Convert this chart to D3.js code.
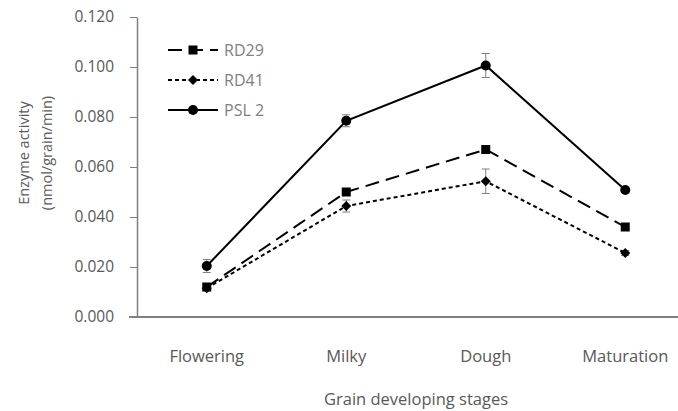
<!DOCTYPE html>
<html>
<head>
<meta charset="utf-8">
<script src="https://cdn.jsdelivr.net/npm/d3@7"></script>
<style>
  html, body { margin: 0; padding: 0; background: #fff; }
  svg { display: block; }
  text { font-family: "Open Sans", "Noto Sans", sans-serif; }
</style>
</head>
<body>
<svg id="chart" width="678" height="411"></svg>
<script>
const categories = ["Flowering", "Milky", "Dough", "Maturation"];
const seriesNames = ["RD29", "RD41", "PSL 2"];
const rd29 = [0.012, 0.050, 0.067, 0.036];
const rd29Err = [0.001, 0.001, 0.001, 0.001];
const rd41 = [0.0115, 0.0444, 0.0543, 0.0256];
const rd41Err = [0.001, 0.0024, 0.0049, 0.001];
const psl2 = [0.0204, 0.0785, 0.1006, 0.0508];
const psl2Err = [0.0026, 0.0024, 0.0048, 0.001];
const yTicks = [0, 0.02, 0.04, 0.06, 0.08, 0.10, 0.12];

const svg = d3.select("#chart");
const m = { left: 137, top: 17, right: -17, bottom: 94 };
const W = 678, H = 411;
const x = d3.scaleBand().domain(categories).range([m.left, W - m.right]);
const y = d3.scaleLinear().domain([0, 0.12]).range([H - m.bottom, m.top]);
const cx = c => x(c) + x.bandwidth() / 2;

const axisColor = "#7f7f7f";
const textColor = "#595959";

// Y axis
const yAxis = svg.append("g").attr("transform", `translate(${m.left},0)`)
  .call(d3.axisLeft(y).tickValues(yTicks).tickFormat(d3.format(".3f")).tickSize(7).tickSizeOuter(0));
yAxis.select(".domain").attr("stroke", axisColor).attr("stroke-width", 1.5);
yAxis.selectAll(".tick line").attr("stroke", axisColor).attr("stroke-width", 1);
yAxis.selectAll(".tick text").attr("fill", textColor).attr("font-size", 15.5).attr("x", -23)
  .attr("font-family", "'Open Sans', sans-serif");

// X axis
const xAxis = svg.append("g").attr("transform", `translate(0,${y(0)})`)
  .call(d3.axisBottom(x).tickSize(0).tickSizeOuter(0));
xAxis.select(".domain").attr("stroke", axisColor).attr("stroke-width", 2)
  .attr("d", `M${m.left - 8},0H${W - m.right}`);
xAxis.selectAll(".tick text").attr("fill", textColor).attr("font-size", 16.5).attr("dy", 0).attr("y", 45)
  .attr("font-family", "'Open Sans', sans-serif");

// Axis titles
svg.append("text").attr("x", 416).attr("y", 405).attr("text-anchor", "middle")
  .attr("fill", textColor).attr("font-size", 16.5).text("Grain developing stages");
const yt = svg.append("text").attr("transform", "translate(29,153) rotate(-90)")
  .attr("text-anchor", "middle").attr("fill", textColor).attr("font-size", 14.5);
yt.append("tspan").attr("x", 0).attr("dy", 0).text("Enzyme activity");
yt.append("tspan").attr("x", 0).attr("dy", 23).text("(nmol/grain/min)");

const series = [
  { name: seriesNames[0], vals: rd29, err: rd29Err, dash: "14,7", marker: "square" },
  { name: seriesNames[1], vals: rd41, err: rd41Err, dash: "4,3", marker: "diamond" },
  { name: seriesNames[2], vals: psl2, err: psl2Err, dash: null, marker: "circle" }
];

const line = d3.line().x((d, i) => cx(categories[i])).y(d => y(d));

function drawMarker(g, type, px, py) {
  if (type === "square") {
    g.append("rect").attr("x", px - 4.5).attr("y", py - 4.5).attr("width", 9).attr("height", 9).attr("fill", "#000");
  } else if (type === "diamond") {
    g.append("path").attr("d", `M${px},${py - 5}L${px + 5},${py}L${px},${py + 5}L${px - 5},${py}Z`).attr("fill", "#000");
  } else {
    g.append("circle").attr("cx", px).attr("cy", py).attr("r", 5).attr("fill", "#000");
  }
}

// error bars
series.forEach(s => {
  const g = svg.append("g");
  s.vals.forEach((v, i) => {
    const px = cx(categories[i]);
    const y1 = y(v + s.err[i]), y2 = y(v - s.err[i]);
    g.append("line").attr("x1", px).attr("x2", px).attr("y1", y1).attr("y2", y2).attr("stroke", "#808080").attr("stroke-width", 1);
    [y1, y2].forEach(yy => g.append("line").attr("x1", px - 4).attr("x2", px + 4).attr("y1", yy).attr("y2", yy)
      .attr("stroke", "#808080").attr("stroke-width", 1));
  });
});

// lines and markers
series.forEach(s => {
  svg.append("path").datum(s.vals).attr("d", line).attr("fill", "none").attr("stroke", "#000")
    .attr("stroke-width", 2).attr("stroke-dasharray", s.dash);
  const g = svg.append("g");
  s.vals.forEach((v, i) => drawMarker(g, s.marker, cx(categories[i]), y(v)));
});

// legend
const legY = [50, 80, 110];
series.forEach((s, i) => {
  const g = svg.append("g");
  g.append("line").attr("x1", 168).attr("x2", 218).attr("y1", legY[i]).attr("y2", legY[i])
    .attr("stroke", "#000").attr("stroke-width", 2).attr("stroke-dasharray", s.dash);
  drawMarker(g, s.marker, 193, legY[i]);
  g.append("text").attr("x", 224).attr("y", legY[i] + 6).attr("fill", "#7f7f7f").attr("font-size", 16).text(s.name);
});
</script>
</body>
</html>
